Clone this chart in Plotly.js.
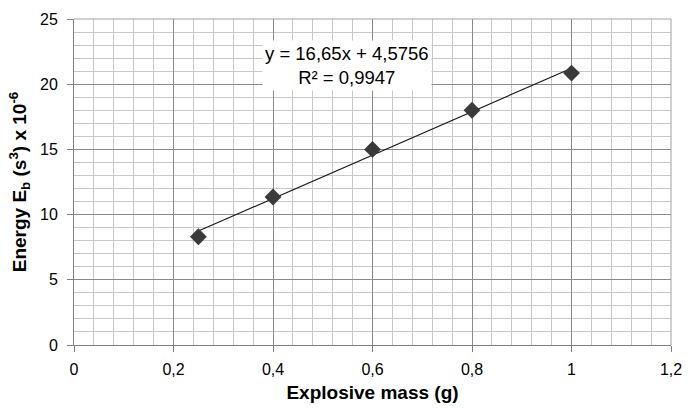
<!DOCTYPE html>
<html>
<head>
<meta charset="utf-8">
<script src="https://cdn.plot.ly/plotly-3.0.1.min.js"></script>
<style>html,body{margin:0;padding:0;background:#fff;}#chart{width:688px;height:410px;}</style>
</head>
<body>
<div id="chart"></div>
<script>
const massX = [0.25, 0.4, 0.6, 0.8, 1.0];
const energyY = [8.3, 11.35, 15.0, 18.0, 20.85];
const fitSlope = 16.65;
const fitIntercept = 4.5756;
const fitR2 = 0.9947;
const xTickVals = [0, 0.2, 0.4, 0.6, 0.8, 1, 1.2];
const xTickText = ['0', '0,2', '0,4', '0,6', '0,8', '1', '1,2'];
const yTickVals = [0, 5, 10, 15, 20, 25];
const yTickText = ['0', '5', '10', '15', '20', '25'];

const xMin = Math.min(...massX), xMax = Math.max(...massX);
const fitX = [xMin, xMax];
const fitY = fitX.map(x => fitSlope * x + fitIntercept);

const fmt = v => String(v).replace('.', ',');

const traces = [
  {x: fitX, y: fitY, mode: 'lines', type: 'scatter', line: {color: '#1a1a1a', width: 1.2}, hoverinfo: 'skip', showlegend: false},
  {x: massX, y: energyY, mode: 'markers', type: 'scatter', marker: {symbol: 'diamond', size: 13, color: '#3a3a3a'}, showlegend: false}
];

const layout = {
  width: 688, height: 410,
  margin: {l: 74, r: 17, t: 19, b: 65},
  paper_bgcolor: '#fff', plot_bgcolor: '#fff',
  font: {family: 'Liberation Sans, Arial, sans-serif', size: 16, color: '#000'},
  separators: ', ',
  xaxis: {
    range: [0, 1.2], tickvals: xTickVals, ticktext: xTickText,
    showgrid: true, gridcolor: '#8a8a8a', gridwidth: 1,
    minor: {dtick: 0.04, showgrid: true, gridcolor: '#c8c8c8', gridwidth: 1},
    showline: true, linecolor: '#808080', linewidth: 1, mirror: false,
    ticks: 'outside', ticklen: 6, tickcolor: '#808080',
    ticklabelstandoff: 4,
    zeroline: false,
    tickfont: {size: 16},
    title: {text: '<b>Explosive mass (g)</b>', font: {size: 19}, standoff: 8}
  },
  yaxis: {
    range: [0, 25], tickvals: yTickVals, ticktext: yTickText,
    showgrid: true, gridcolor: '#8a8a8a', gridwidth: 1,
    minor: {dtick: 1, showgrid: true, gridcolor: '#c8c8c8', gridwidth: 1},
    showline: true, linecolor: '#808080', linewidth: 1,
    ticks: 'outside', ticklen: 6, tickcolor: '#808080',
    ticklabelstandoff: 6,
    zeroline: false,
    tickfont: {size: 16},
    title: {text: '<b>Energy E<sub>b</sub> (s<sup>3</sup>) x 10<sup>-6</sup></b>', font: {size: 19}, standoff: 8}
  },
  shapes: [
    {type: 'line', xref: 'paper', yref: 'paper', x0: 0, x1: 1, y0: 1, y1: 1, line: {color: '#a0a0a0', width: 1}},
    {type: 'line', xref: 'paper', yref: 'paper', x0: 1, x1: 1, y0: 0, y1: 1, line: {color: '#a0a0a0', width: 1}}
  ],
  annotations: [{
    xref: 'x', yref: 'y', x: 0.549, y: 21.45,
    text: 'y = ' + fmt(fitSlope) + 'x + ' + fmt(fitIntercept) + '<br>R² = ' + fmt(fitR2),
    showarrow: false, bgcolor: '#fff', font: {size: 18.5, color: '#000'},
    borderpad: 2, align: 'center'
  }]
};

Plotly.newPlot('chart', traces, layout, {displayModeBar: false, staticPlot: true});
</script>
</body>
</html>
